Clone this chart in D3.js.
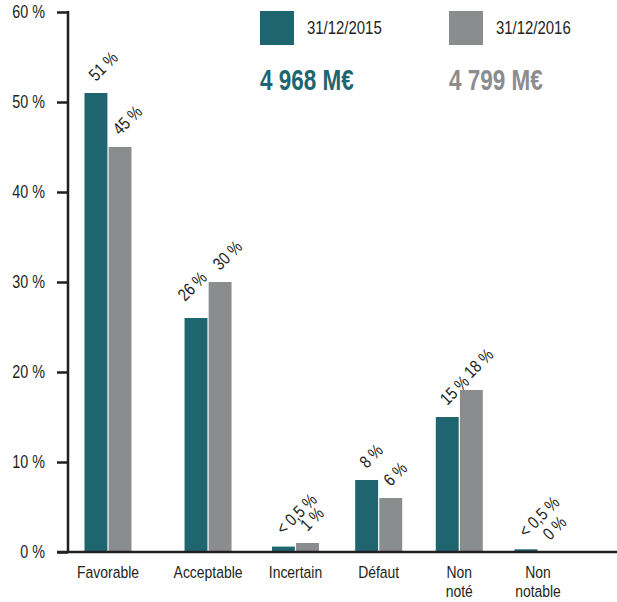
<!DOCTYPE html>
<html>
<head>
<meta charset="utf-8">
<script src="https://cdn.jsdelivr.net/npm/d3@7"></script>
<style>
  body { margin: 0; background: #fff; }
  svg text { font-family: "Liberation Sans", Arial, sans-serif; fill: #231f20; }
</style>
</head>
<body>
<div id="chart"></div>
<script>
// data
const categories = ["Favorable", "Acceptable", "Incertain", "Défaut", "Non noté", "Non notable"];
const seriesNames = ["31/12/2015", "31/12/2016"];
const totals = ["4 968 M€", "4 799 M€"];
const values2015 = [51, 26, 0.6, 8, 15, 0.3];
const values2016 = [45, 30, 1, 6, 18, 0];
const labels2015 = ["51 %", "26 %", "< 0,5 %", "8 %", "15 %", "< 0,5 %"];
const labels2016 = ["45 %", "30 %", "1 %", "6 %", "18 %", "0 %"];
const yTicks = [0, 10, 20, 30, 40, 50, 60];

const colours = ["#1e6570", "#8b8c8e"];
const width = 617, height = 602;
const narrow = 0.82; // no condensed font installed, squeeze a regular one

let svg = d3.select("#chart").append("svg")
  .attr("width", width)
  .attr("height", height);

let y = d3.scaleLinear()
  .domain([0, 60])
  .range([552, 12]);

// groups in the original get a bit closer to the right
let xc = d3.scalePow()
  .exponent(0.906)
  .domain([0, categories.length - 1])
  .range([108, 538]);
let x = d => xc(categories.indexOf(d));

let groupW = 47;
let x1 = d3.scaleBand()
  .domain(seriesNames)
  .range([-groupW / 2, groupW / 2])
  .paddingInner(0.05);

// one row per bar
let bars = [];
categories.forEach((c, i) => {
  bars.push({cat: c, s: seriesNames[0], si: 0, value: values2015[i], label: labels2015[i]});
  bars.push({cat: c, s: seriesNames[1], si: 1, value: values2016[i], label: labels2016[i]});
});

// label moved aside in the original to clear the taller neighbour
const nudge = {"Acceptable|31/12/2015": [-11, -5]};

let barX = d => x(d.cat) + x1(d.s);

svg.selectAll("rect.bar")
  .data(bars)
  .enter()
  .append("rect")
  .attr("class", "bar")
  .attr("x", barX)
  .attr("width", x1.bandwidth())
  .attr("y", d => y(d.value))
  .attr("height", d => y(0) - y(d.value))
  .style("fill", d => colours[d.si]);

// value labels, rotated
svg.selectAll("text.valueLabel")
  .data(bars)
  .enter()
  .append("text")
  .attr("class", "valueLabel")
  .attr("transform", d => {
    let n = nudge[d.cat + "|" + d.s] || [0, 0];
    let cx = barX(d) + x1.bandwidth() / 2 + n[0];
    let cy = y(d.value) - 11 + n[1];
    return `translate(${cx},${cy}) rotate(-45) scale(${narrow},1)`;
  })
  .style("font-size", "17.5px")
  .text(d => d.label);

// y axis
let yAxis = d3.axisLeft(y)
  .tickValues(yTicks)
  .tickSize(11)
  .tickPadding(12)
  .tickFormat(d => d + " %");

let gy = svg.append("g")
  .attr("transform", "translate(68,0)")
  .call(yAxis);
gy.select(".domain").remove();
gy.selectAll(".tick line").attr("stroke", "#231f20").attr("stroke-width", 2.5);
gy.selectAll(".tick text")
  .attr("x", -23 / narrow)
  .attr("transform", `scale(${narrow},1)`)
  .style("font-size", "17.5px")
  .style("font-family", "Liberation Sans, Arial, sans-serif")
  .attr("fill", "#231f20");

svg.append("line")
  .attr("x1", 68).attr("x2", 68)
  .attr("y1", y(60) - 1).attr("y2", y(0))
  .attr("stroke", "#231f20").attr("stroke-width", 2.5);

svg.append("line")
  .attr("x1", 57).attr("x2", width)
  .attr("y1", y(0)).attr("y2", y(0))
  .attr("stroke", "#231f20").attr("stroke-width", 2.5);

// category labels, split on space for two-word names
svg.selectAll("text.cat")
  .data(categories)
  .enter()
  .append("text")
  .attr("class", "cat")
  .attr("transform", d => `translate(${x(d)},578) scale(${narrow},1)`)
  .style("text-anchor", "middle")
  .style("font-size", "17px")
  .each(function(d) {
    let t = d3.select(this);
    d.split(" ").forEach((w, i) => {
      t.append("tspan")
        .attr("x", 0)
        .attr("dy", i == 0 ? 0 : 19)
        .text(w);
    });
  });

// legend
let legend = svg.selectAll("g.legend")
  .data(seriesNames)
  .enter()
  .append("g")
  .attr("class", "legend")
  .attr("transform", (d, i) => `translate(${260 + i * 189},11)`);

legend.append("rect")
  .attr("width", 34)
  .attr("height", 34)
  .style("fill", (d, i) => colours[i]);

legend.append("text")
  .attr("transform", `translate(47,23) scale(0.83,1)`)
  .style("font-size", "18px")
  .text(d => d);

legend.append("text")
  .attr("transform", `translate(0,79) scale(0.75,1)`)
  .style("font-size", "30px")
  .style("font-weight", "bold")
  .style("fill", (d, i) => colours[i])
  .text((d, i) => totals[i]);
</script>
</body>
</html>
